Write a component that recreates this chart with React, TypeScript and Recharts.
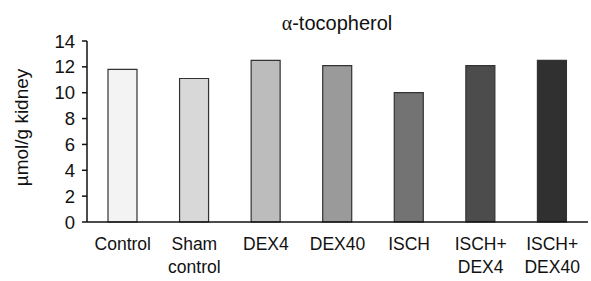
import React from "react";
import { BarChart, Bar, XAxis, YAxis, Cell } from "recharts";

const categories = ["Control", "Sham\ncontrol", "DEX4", "DEX40", "ISCH", "ISCH+\nDEX4", "ISCH+\nDEX40"];
const values = [11.8, 11.1, 12.5, 12.1, 10.0, 12.1, 12.5];
const fills = ["#f3f3f3", "#d8d8d8", "#bcbcbc", "#9a9a9a", "#737373", "#4c4c4c", "#303030"];
const yTicks = [0, 2, 4, 6, 8, 10, 12, 14];
const title = "-tocopherol";
const yLabel = "µmol/g kidney";

const data = categories.map((c, i) => ({ name: c, value: values[i] }));

const FONT = "'Liberation Sans', Arial, Helvetica, sans-serif";

const XTick = (props: any) => {
  const { x, y, payload } = props;
  const lines = String(payload.value).split("\n");
  return (
    <g>
      {lines.map((l: string, i: number) => (
        <text
          key={i}
          x={x}
          y={y + 20 + i * 23}
          textAnchor="middle"
          fontSize={17.5}
          fontFamily={FONT}
          fill="#111"
        >
          {l}
        </text>
      ))}
    </g>
  );
};

export default function App() {
  return (
    <div style={{ position: "absolute", left: 0, top: 0, width: 591, height: 281, background: "#fff" }}>
      <BarChart
        width={591}
        height={281}
        data={data}
        margin={{ top: 41, right: 3, bottom: 0, left: 0 }}
        barCategoryGap="30%"
      >
        <XAxis
          dataKey="name"
          interval={0}
          tickLine={false}
          axisLine={{ stroke: "#111", strokeWidth: 1.5 }}
          height={59}
          tick={<XTick />}
        />
        <YAxis
          domain={[0, 14]}
          ticks={yTicks}
          width={87}
          tickSize={5}
          tickMargin={7}
          interval={0}
          axisLine={{ stroke: "#111", strokeWidth: 1.5 }}
          tickLine={{ stroke: "#111", strokeWidth: 1.5 }}
          tick={{ fontSize: 18.5, fontFamily: FONT, fill: "#111" }}
        />
        <Bar dataKey="value" barSize={29} stroke="#333" strokeWidth={1.2} isAnimationActive={false}>
          {data.map((_, i) => (
            <Cell key={i} fill={fills[i]} />
          ))}
        </Bar>
      </BarChart>
      <svg width={591} height={281} style={{ position: "absolute", left: 0, top: 0, pointerEvents: "none" }}>
        <text x={337} y={30} textAnchor="middle" fontSize={20} fontFamily={FONT} fill="#111">
          <tspan fontFamily="'Liberation Serif', 'DejaVu Serif', serif">α</tspan>
          {title}
        </text>
        <text
          x={0}
          y={0}
          transform="translate(28, 127.5) rotate(-90)"
          textAnchor="middle"
          fontSize={19}
          fontFamily={FONT}
          fill="#111"
        >
          {yLabel}
        </text>
      </svg>
    </div>
  );
}
